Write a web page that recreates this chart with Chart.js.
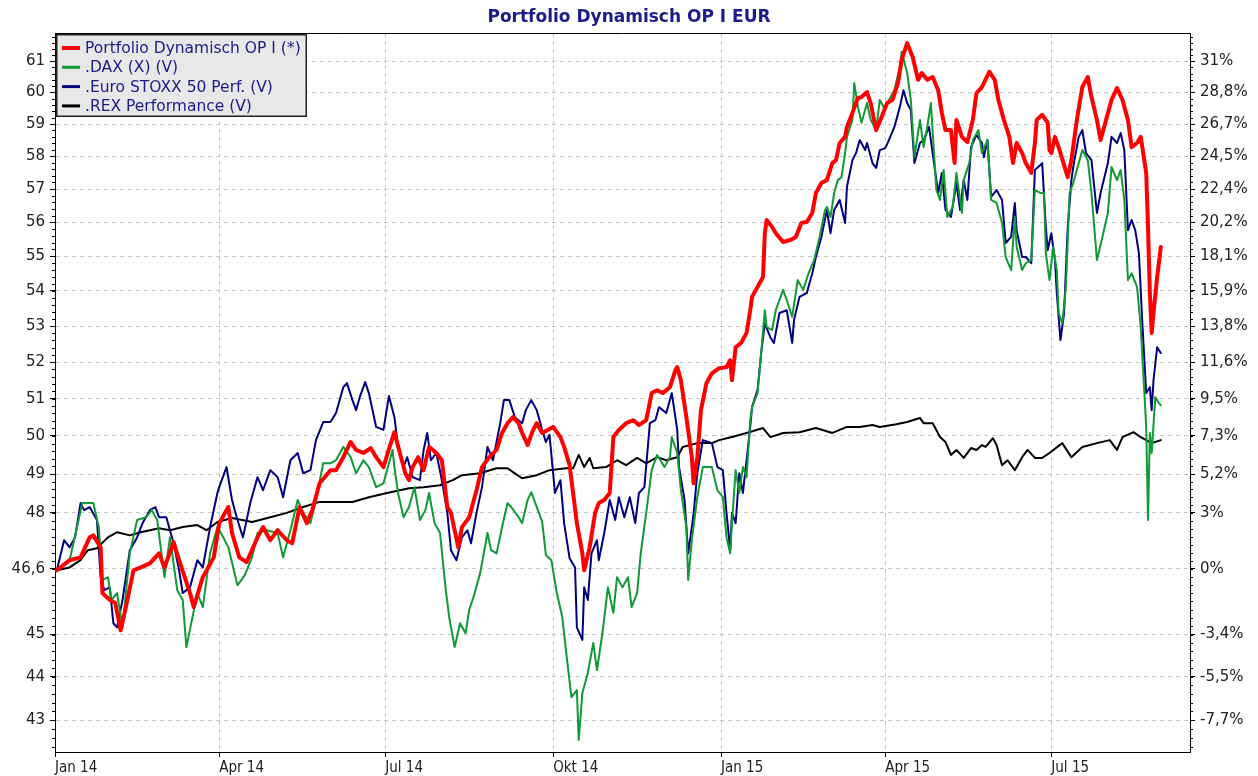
<!DOCTYPE html>
<html lang="de">
<head>
<meta charset="utf-8">
<title>Portfolio Dynamisch OP I EUR</title>
<script src="https://cdn.jsdelivr.net/npm/chart.js@4.4.1/dist/chart.umd.min.js"></script>
<style>
    html, body { margin: 0; padding: 0; background: #ffffff; }
    #wrap { position: relative; width: 1258px; height: 776px; }
</style>
</head>
<body>
<div id="wrap"><canvas id="chart"></canvas></div>
<script>
const chartTitle = "Portfolio Dynamisch OP I EUR";
const seriesNames = ["Portfolio Dynamisch OP I (*)", ".DAX (X) (V)", ".Euro STOXX 50 Perf. (V)", ".REX Performance (V)"];
const seriesColors = ["#ff0000", "#109a36", "#00007f", "#000000"];

// x values are days since 1 Jan 2014
const monthDays = [0, 90, 181, 273, 365, 455, 546];
const monthLabels = ["Jan 14", "Apr 14", "Jul 14", "Okt 14", "Jan 15", "Apr 15", "Jul 15"];
const leftTicks = [43, 44, 45, 46.6, 48, 49, 50, 51, 52, 53, 54, 55, 56, 57, 58, 59, 60, 61];
const rightTickLabels = ["-7,7%", "-5,5%", "-3,4%", "0%", "3%", "5,2%", "7,3%", "9,5%", "11,6%", "13,8%",
    "15,9%", "18,1%", "20,2%", "22,4%", "24,5%", "26,7%", "28,8%", "31%"];

const portfolioDays = [
    1, 8, 14, 19, 21, 25, 26, 30, 33, 36,
    39, 43, 47, 52, 57, 60, 65, 68, 74, 76,
    81, 87, 90, 95, 97, 101, 105, 111, 114, 118,
    122, 127, 130, 134, 138, 141, 145, 151, 154, 158,
    162, 165, 169, 173, 176, 180, 183, 186, 189, 192,
    194, 196, 199, 202, 205, 209, 212, 215, 217, 221,
    223, 227, 231, 234, 238, 242, 245, 248, 251, 254,
    256, 259, 262, 264, 267, 270, 273, 277, 279, 282,
    286, 289, 290, 293, 296, 298, 301, 304, 306, 309,
    313, 317, 320, 324, 327, 330, 333, 337, 340, 341,
    343, 346, 349, 350, 352, 354, 357, 360, 364, 368,
    370, 371, 373, 376, 379, 381, 382, 385, 388, 389,
    390, 393, 395, 399, 403, 406, 409, 412, 415, 417,
    420, 423, 426, 428, 430, 433, 434, 437, 440, 442,
    445, 447, 450, 453, 456, 459, 462, 464, 467, 470,
    473, 475, 478, 481, 484, 486, 488, 491, 493, 494,
    497, 500, 503, 505, 508, 512, 515, 517, 520, 523,
    525, 527, 530, 532, 535, 537, 538, 541, 544, 545,
    546, 548, 550, 555, 557, 560, 563, 566, 568, 571,
    573, 576, 579, 582, 585, 588, 590, 593, 595, 598,
    599, 600, 601, 602, 604, 606
];
const portfolioValues = [
    46.56, 46.81, 46.88, 47.38, 47.43, 47.13, 46.00, 45.83, 45.76, 45.10,
    45.69, 46.56, 46.63, 46.73, 46.98, 46.63, 47.26, 46.81, 46.00, 45.66,
    46.39, 46.88, 47.74, 48.15, 47.49, 46.88, 46.76, 47.38, 47.64, 47.31,
    47.56, 47.31, 47.23, 48.15, 47.74, 48.07, 48.76, 49.10, 49.10, 49.44,
    49.84, 49.63, 49.55, 49.68, 49.44, 49.18, 49.65, 50.10, 49.55, 49.02,
    48.84, 49.18, 49.44, 49.10, 49.71, 49.55, 49.36, 48.15, 48.00, 47.13,
    47.64, 47.89, 48.58, 49.18, 49.44, 49.63, 50.08, 50.34, 50.50, 50.34,
    50.08, 49.76, 50.16, 50.34, 50.08, 50.16, 50.24, 49.97, 49.71, 49.23,
    47.74, 46.98, 46.56, 47.13, 48.00, 48.25, 48.33, 48.51, 49.97, 50.16,
    50.34, 50.42, 50.29, 50.42, 51.15, 51.23, 51.15, 51.31, 51.78, 51.86,
    51.50, 50.50, 49.44, 48.76, 49.44, 50.69, 51.42, 51.69, 51.83, 51.86,
    52.05, 51.50, 52.41, 52.53, 52.81, 53.45, 53.83, 54.11, 54.40, 55.68,
    56.07, 55.86, 55.68, 55.42, 55.48, 55.57, 55.98, 56.01, 56.28, 56.88,
    57.18, 57.27, 57.79, 57.88, 58.41, 58.60, 58.91, 59.35, 59.82, 59.85,
    60.01, 59.66, 58.81, 59.22, 59.66, 59.76, 60.30, 61.04, 61.59, 61.14,
    60.40, 60.62, 60.40, 60.49, 60.07, 59.35, 58.81, 58.81, 57.79, 59.13,
    58.60, 58.44, 59.13, 59.98, 60.17, 60.66, 60.40, 59.76, 59.13, 58.60,
    57.79, 58.41, 58.10, 57.79, 57.49, 58.41, 59.13, 59.29, 59.04, 58.19,
    58.10, 58.60, 58.28, 57.36, 57.88, 59.13, 60.17, 60.49, 59.85, 59.13,
    58.50, 59.13, 59.76, 60.14, 59.76, 59.13, 58.28, 58.41, 58.60, 57.49,
    55.86, 53.94, 52.81, 53.37, 54.40, 55.27
];

const daxDays = [
    1, 8, 15, 21, 24, 26, 29, 31, 34, 37,
    41, 45, 50, 53, 56, 60, 63, 67, 70, 72,
    75, 78, 81, 85, 89, 91, 95, 100, 104, 108,
    111, 116, 122, 125, 129, 133, 136, 140, 143, 147,
    151, 154, 158, 162, 165, 169, 172, 176, 180, 185,
    186, 188, 191, 194, 197, 200, 203, 205, 208, 211,
    214, 216, 219, 222, 225, 227, 230, 233, 237, 239,
    242, 245, 248, 250, 254, 256, 259, 261, 264, 267,
    269, 272, 275, 278, 280, 283, 286, 287, 289, 292,
    295, 297, 300, 303, 306, 308, 311, 314, 316, 319,
    321, 324, 327, 330, 334, 337, 338, 341, 343, 346,
    347, 349, 352, 355, 360, 363, 366, 368, 370, 371,
    373, 375, 377, 379, 381, 382, 385, 387, 389, 390,
    393, 395, 399, 401, 404, 407, 410, 413, 416, 419,
    422, 423, 425, 427, 429, 431, 433, 434, 437, 438,
    440, 442, 445, 447, 450, 452, 455, 457, 460, 463,
    464, 467, 469, 471, 474, 476, 478, 480, 483, 485,
    487, 489, 492, 494, 497, 498, 501, 503, 506, 508,
    511, 513, 516, 519, 521, 524, 526, 527, 530, 532,
    535, 537, 540, 542, 543, 545, 547, 549, 550, 552,
    554, 556, 558, 560, 563, 566, 568, 571, 574, 577,
    579, 582, 584, 586, 588, 590, 593, 595, 597, 598,
    599, 600, 601, 603, 605, 606
];
const daxValues = [
    46.56, 46.81, 48.25, 48.25, 47.64, 46.32, 46.39, 45.83, 46.00, 45.17,
    46.98, 47.82, 47.89, 48.07, 47.82, 46.39, 47.38, 46.07, 45.83, 44.70,
    45.34, 46.00, 45.66, 46.98, 47.64, 47.49, 47.13, 46.19, 46.44, 46.88,
    47.49, 47.56, 47.49, 46.88, 47.56, 48.33, 48.00, 47.74, 48.33, 49.28,
    49.28, 49.36, 49.71, 49.44, 49.02, 49.36, 49.18, 48.66, 48.76, 49.63,
    49.18, 48.51, 47.89, 48.15, 48.66, 47.82, 48.07, 48.51, 47.74, 47.49,
    46.14, 45.42, 44.70, 45.27, 45.03, 45.59, 46.00, 46.49, 47.49, 47.06,
    46.98, 47.64, 48.25, 48.15, 47.89, 47.74, 48.33, 48.53, 48.15, 47.77,
    46.94, 46.81, 46.00, 45.42, 44.63, 43.53, 43.69, 42.55, 43.62, 44.09,
    44.80, 44.16, 45.03, 46.14, 45.52, 46.39, 46.14, 46.39, 45.66, 46.00,
    46.98, 48.00, 49.10, 49.50, 49.18, 49.44, 49.97, 49.55, 48.58, 47.64,
    46.32, 47.31, 48.40, 49.18, 49.18, 48.58, 48.40, 47.38, 46.98, 47.74,
    49.10, 48.51, 49.18, 48.92, 50.42, 50.77, 51.15, 52.25, 53.45, 52.97,
    52.89, 53.45, 54.03, 53.74, 53.26, 54.31, 54.03, 54.51, 54.89, 55.57,
    56.37, 56.46, 56.16, 56.88, 57.27, 57.36, 58.10, 58.60, 59.13, 60.30,
    59.54, 59.04, 59.66, 59.13, 58.81, 59.76, 59.44, 59.76, 60.07, 60.82,
    61.31, 60.62, 59.76, 57.97, 59.13, 58.28, 58.91, 59.66, 56.97, 56.67,
    57.58, 56.16, 56.46, 57.49, 56.28, 57.27, 57.79, 58.50, 58.81, 58.10,
    58.50, 56.67, 56.58, 55.98, 54.98, 54.60, 56.16, 55.27, 54.60, 54.80,
    54.89, 56.97, 56.88, 56.88, 55.09, 54.31, 55.27, 54.60, 53.37, 53.08,
    54.11, 56.88, 57.18, 57.58, 58.19, 57.88, 56.88, 54.89, 55.57, 56.28,
    57.67, 57.27, 57.58, 56.67, 54.31, 54.51, 54.11, 52.97, 51.15, 50.24,
    47.82, 50.08, 49.55, 51.04, 50.88, 50.82
];

const stoxxDays = [
    1, 5, 8, 11, 14, 16, 19, 23, 25, 27,
    30, 32, 34, 37, 41, 45, 48, 52, 55, 57,
    61, 65, 68, 70, 74, 78, 81, 85, 89, 90,
    94, 97, 100, 103, 107, 111, 114, 118, 122, 125,
    129, 133, 136, 140, 143, 147, 151, 154, 158, 160,
    163, 165, 167, 170, 172, 176, 180, 183, 186, 188,
    191, 193, 196, 200, 202, 204, 206, 209, 212, 215,
    217, 220, 223, 226, 228, 231, 234, 237, 240, 244,
    246, 249, 252, 256, 258, 261, 264, 267, 269, 271,
    274, 277, 279, 282, 285, 286, 289, 290, 292, 294,
    297, 298, 301, 304, 307, 309, 312, 315, 318, 320,
    323, 326, 329, 331, 335, 338, 341, 342, 345, 347,
    349, 350, 352, 355, 360, 363, 366, 368, 370, 371,
    373, 375, 377, 379, 381, 382, 385, 387, 389, 392,
    394, 397, 401, 404, 405, 408, 412, 415, 417, 420,
    423, 425, 427, 430, 433, 434, 437, 439, 441, 444,
    445, 448, 450, 452, 455, 457, 460, 463, 465, 467,
    469, 471, 474, 476, 479, 482, 484, 486, 488, 491,
    494, 496, 498, 500, 502, 505, 508, 509, 511, 513,
    516, 519, 521, 524, 526, 527, 530, 532, 535, 537,
    540, 541, 543, 544, 546, 548, 549, 551, 553, 555,
    557, 558, 561, 563, 565, 568, 571, 573, 577, 579,
    582, 584, 586, 588, 590, 592, 594, 596, 598, 600,
    601, 602, 604, 606
];
const stoxxValues = [
    46.56, 47.31, 47.13, 47.38, 48.25, 48.07, 48.15, 47.82, 46.39, 46.07,
    46.14, 45.27, 45.17, 45.83, 47.06, 47.38, 47.74, 48.07, 48.15, 47.89,
    47.89, 47.23, 46.56, 46.00, 46.14, 46.81, 46.63, 47.64, 48.51, 48.66,
    49.18, 48.33, 47.82, 47.38, 48.25, 48.92, 48.58, 49.10, 48.92, 48.40,
    49.36, 49.55, 49.02, 49.10, 49.89, 50.37, 50.37, 50.61, 51.31, 51.42,
    50.96, 50.69, 51.04, 51.45, 51.15, 50.24, 50.16, 51.07, 50.50, 49.71,
    49.18, 49.44, 48.92, 48.84, 49.63, 50.08, 49.36, 49.55, 48.84, 48.00,
    47.06, 46.81, 47.38, 47.56, 47.23, 48.00, 48.66, 49.71, 49.36, 50.34,
    50.96, 50.96, 50.50, 50.34, 50.69, 50.96, 50.69, 50.16, 49.84, 50.03,
    48.51, 48.84, 47.74, 46.86, 46.63, 45.17, 44.87, 46.14, 45.83, 46.98,
    47.31, 46.81, 47.49, 48.33, 47.82, 48.40, 47.89, 48.40, 47.74, 48.51,
    48.66, 50.34, 50.42, 50.77, 50.61, 51.15, 50.16, 49.18, 48.33, 46.98,
    47.64, 48.00, 49.02, 49.89, 49.81, 49.18, 49.10, 48.00, 47.06, 48.00,
    47.74, 49.02, 48.51, 49.36, 50.24, 50.77, 51.23, 52.25, 53.08, 52.69,
    52.53, 53.37, 53.45, 52.53, 53.17, 53.83, 53.94, 54.51, 54.98, 55.57,
    56.37, 55.68, 56.37, 56.67, 55.98, 57.06, 57.88, 58.10, 58.50, 58.19,
    58.41, 57.79, 57.64, 58.19, 58.25, 58.50, 58.91, 59.54, 60.07, 59.66,
    59.44, 57.79, 58.41, 58.50, 58.91, 57.67, 56.88, 57.49, 56.37, 56.16,
    57.18, 56.37, 57.27, 56.67, 58.28, 58.66, 58.41, 57.97, 58.50, 56.76,
    56.97, 56.67, 55.39, 55.57, 56.58, 55.77, 54.98, 54.98, 54.80, 57.58,
    57.73, 57.79, 55.86, 55.18, 55.68, 54.89, 53.94, 52.61, 53.37, 55.86,
    57.27, 57.67, 58.60, 58.81, 58.10, 57.88, 56.28, 56.88, 57.79, 58.60,
    58.41, 58.72, 58.19, 55.77, 56.07, 55.77, 55.09, 52.97, 51.15, 51.31,
    50.69, 51.50, 52.41, 52.25
];

const rexDays = [
    1, 8, 14, 18, 23, 29, 34, 41, 47, 52,
    57, 63, 70, 78, 83, 89, 97, 108, 118, 127,
    136, 145, 154, 163, 172, 182, 194, 202, 211, 218,
    223, 233, 242, 248, 251, 256, 264, 271, 280, 284,
    287, 290, 293, 295, 302, 308, 313, 319, 324, 330,
    335, 341, 344, 352, 360, 364, 371, 379, 388, 392,
    399, 408, 417, 426, 434, 441, 448, 452, 461, 467,
    474, 476, 481, 485, 488, 491, 494, 498, 502, 505,
    508, 510, 514, 516, 519, 522, 526, 530, 533, 537,
    541, 545, 552, 557, 563, 571, 578, 582, 585, 591,
    595, 601, 606
];
const rexValues = [
    46.56, 46.63, 46.81, 47.06, 47.11, 47.38, 47.51, 47.43, 47.51, 47.56,
    47.61, 47.56, 47.64, 47.69, 47.56, 47.77, 47.87, 47.77, 47.89, 48.00,
    48.15, 48.28, 48.28, 48.28, 48.40, 48.51, 48.63, 48.66, 48.71, 48.84,
    48.97, 49.02, 49.15, 49.15, 49.05, 48.89, 48.97, 49.10, 49.15, 49.15,
    49.50, 49.18, 49.42, 49.15, 49.18, 49.36, 49.23, 49.42, 49.28, 49.44,
    49.36, 49.44, 49.71, 49.81, 49.81, 49.89, 49.97, 50.08, 50.21, 49.97,
    50.08, 50.10, 50.21, 50.08, 50.24, 50.24, 50.29, 50.24, 50.31, 50.37,
    50.48, 50.34, 50.34, 49.97, 49.84, 49.50, 49.63, 49.42, 49.68, 49.63,
    49.76, 49.71, 49.94, 49.76, 49.23, 49.36, 49.10, 49.44, 49.63, 49.42,
    49.42, 49.55, 49.81, 49.44, 49.71, 49.81, 49.89, 49.63, 49.97, 50.10,
    49.97, 49.81, 49.89
];

const axisFont = { family: "'DejaVu Sans', Verdana, sans-serif", size: 15 };
const dateFont = { family: "'DejaVu Sans Condensed', 'DejaVu Sans', sans-serif", size: 15 };
const gridColor = "#c6c6c6";

function toPoints(days, values) {
    return days.map((d, i) => ({ x: d, y: values[i] }));
}

function useTicks(values) {
    return (scale) => {
        scale.ticks = values.map((v) => ({ value: v }));
    };
}

const chartDecor = {
    id: "chartDecor",
    afterDraw(chart) {
        const { ctx, chartArea: area, scales } = chart;
        ctx.save();

        // top frame line
        ctx.strokeStyle = "#000";
        ctx.lineWidth = 1;
        ctx.beginPath();
        ctx.moveTo(area.left, area.top + 0.5);
        ctx.lineTo(area.right, area.top + 0.5);
        ctx.stroke();

        // minor ticks on both value axes
        ctx.beginPath();
        for (let v = 42.4; v < 61.9; v += 0.2) {
            const py = Math.round(scales.y.getPixelForValue(v)) + 0.5;
            ctx.moveTo(area.left - 3, py);
            ctx.lineTo(area.left, py);
            ctx.moveTo(area.right, py);
            ctx.lineTo(area.right + 3, py);
        }
        ctx.stroke();

        // title
        ctx.fillStyle = "#1b1b8a";
        ctx.font = "bold 17px 'DejaVu Sans', Verdana, sans-serif";
        ctx.textAlign = "center";
        ctx.textBaseline = "middle";
        ctx.fillText(chartTitle, chart.width / 2, 18);

        // legend box in the top left corner
        const box = { x: area.left + 1, y: area.top + 1, w: 251, h: 83 };
        ctx.fillStyle = "#e8e8e8";
        ctx.fillRect(box.x, box.y, box.w, box.h);
        ctx.strokeStyle = "#222";
        ctx.lineWidth = 1.5;
        ctx.strokeRect(box.x + 0.75, box.y + 0.75, box.w - 1.5, box.h - 1.5);

        ctx.font = "15.5px 'DejaVu Sans', Verdana, sans-serif";
        ctx.textAlign = "left";
        seriesNames.forEach((name, i) => {
            const rowY = box.y + 14 + i * 19.3;
            ctx.strokeStyle = seriesColors[i];
            ctx.lineWidth = i === 0 ? 4 : 3;
            ctx.beginPath();
            ctx.moveTo(box.x + 6, rowY);
            ctx.lineTo(box.x + 24, rowY);
            ctx.stroke();
            ctx.fillStyle = "#1b1b8a";
            ctx.fillText(name, box.x + 29, rowY + 1);
        });

        ctx.restore();
    },
};

const lineStyle = (i, width) => ({
    label: seriesNames[i],
    borderColor: seriesColors[i],
    backgroundColor: seriesColors[i],
    borderWidth: width,
    pointRadius: 0,
    tension: 0,
    fill: false,
    yAxisID: "y",
});

new Chart(document.getElementById("chart"), {
    type: "line",
    data: {
        datasets: [
            { ...lineStyle(0, 4), data: toPoints(portfolioDays, portfolioValues) },
            { ...lineStyle(1, 2), data: toPoints(daxDays, daxValues) },
            { ...lineStyle(2, 2), data: toPoints(stoxxDays, stoxxValues) },
            { ...lineStyle(3, 2), data: toPoints(rexDays, rexValues) },
        ],
    },
    options: {
        responsive: true,
        maintainAspectRatio: false,
        animation: false,
        layout: { padding: { top: 33, left: 0, right: 0, bottom: 0 } },
        elements: { line: { borderJoinStyle: "round", borderCapStyle: "round" } },
        plugins: {
            legend: { display: false },
            title: { display: false },
            tooltip: { enabled: false },
        },
        scales: {
            x: {
                type: "linear",
                min: 0,
                max: 622,
                afterBuildTicks: useTicks(monthDays),
                afterFit: (scale) => { scale.height = 24; },
                ticks: {
                    autoSkip: false,
                    maxRotation: 0,
                    align: "start",
                    padding: 2,
                    color: "#222",
                    font: dateFont,
                    callback: (value, index) => monthLabels[index],
                },
                grid: { color: gridColor, tickColor: "#000", tickLength: 5 },
                border: { color: "#000", width: 1, dash: [4, 4] },
            },
            y: {
                type: "logarithmic",
                position: "left",
                min: 42.28,
                max: 61.92,
                afterBuildTicks: useTicks(leftTicks),
                afterFit: (scale) => { scale.width = 55; },
                ticks: {
                    autoSkip: false,
                    padding: 5,
                    color: "#222",
                    font: axisFont,
                    callback: (value) => String(value).replace(".", ","),
                },
                grid: { color: gridColor, tickColor: "#000", tickLength: 5 },
                border: { color: "#000", width: 1, dash: [4, 4] },
            },
            y2: {
                type: "logarithmic",
                position: "right",
                min: 42.28,
                max: 61.92,
                afterBuildTicks: useTicks(leftTicks),
                afterFit: (scale) => { scale.width = 68; },
                ticks: {
                    autoSkip: false,
                    padding: 5,
                    color: "#222",
                    font: axisFont,
                    callback: (value, index) => rightTickLabels[index],
                },
                grid: { drawOnChartArea: false, tickColor: "#000", tickLength: 5 },
                border: { color: "#000", width: 1 },
            },
        },
    },
    plugins: [chartDecor],
});
</script>
</body>
</html>
